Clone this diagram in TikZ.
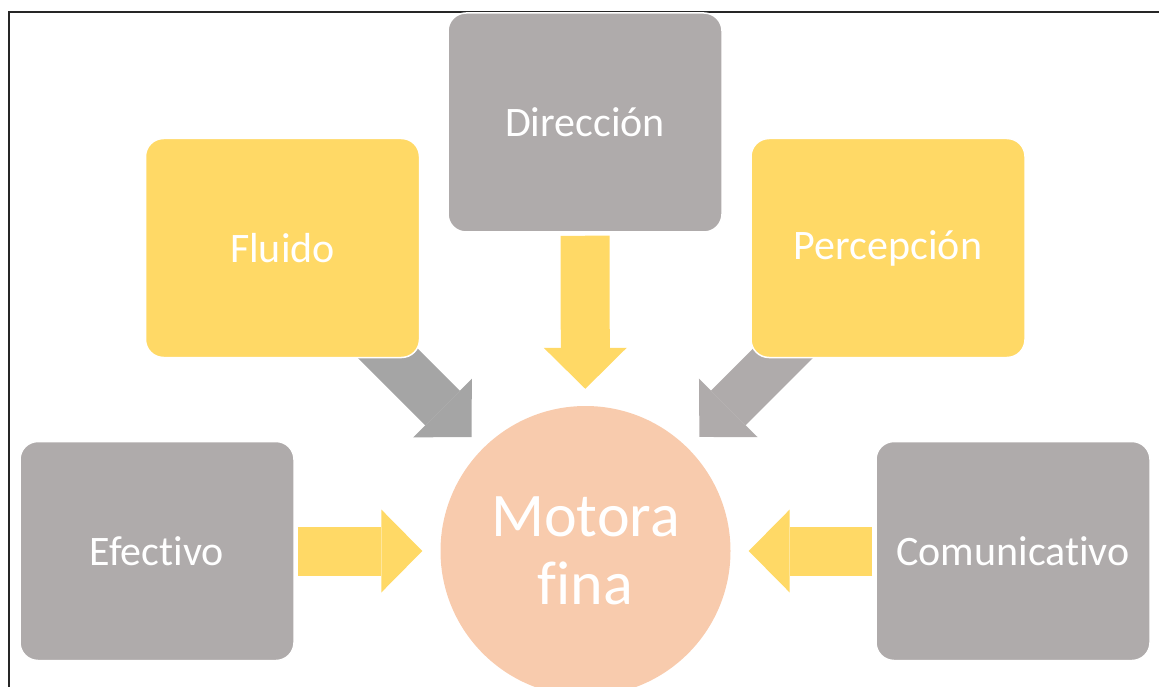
\documentclass[tikz,border=0pt]{standalone}
\usepackage{fontspec}
\setmainfont{Carlito}[Ligatures=CommonOff]
\usetikzlibrary{arrows.meta,backgrounds}

\definecolor{boxgold}{HTML}{FFD966}
\definecolor{boxgrey}{HTML}{AFABAB}
\definecolor{arrowgrey}{HTML}{A5A5A5}
\definecolor{hubpeach}{HTML}{F8CBAD}

\begin{document}
\begin{tikzpicture}[
    x=1pt, y=-1pt,
    block/.style={rectangle, draw=white, line width=1.5pt, rounded corners=18pt, minimum width=274pt, minimum height=219pt, inner sep=0pt, text=white, font=\fontsize{42}{50}\selectfont},
    goldblock/.style={block, fill=boxgold},
    greyblock/.style={block, fill=boxgrey},
    hub/.style={circle, fill=hubpeach, minimum size=290pt, inner sep=0pt, text=white, align=center, font=\fontsize{62}{68}\selectfont},
    fat/.style={line width=49pt, -{Triangle[width=83pt,length=41pt,line width=0pt]}}
]
\useasboundingbox (0,0) rectangle (1159,687);

% Frame
\draw[line width=2pt, black!85] (9,700) |- (1170,12);

% Central circle
\node[hub] (motora) at (585.5,551) {Motora\\fina};

% Boxes around
\node[greyblock] (efectivo) at (157,551) {Efectivo};
\node[goldblock] (fluido) at (282.5,248) {Fluido};
\node[greyblock] (direccion) at (585,122.5) {Dirección};
\node[goldblock] (percepcion) at (888,248) {Percepción};
\node[greyblock] (comunicativo) at (1013,551) {Comunicativo};

% Arrows
\begin{scope}[on background layer]
\draw[fat, draw=arrowgrey, shorten >=16pt] (fluido.center) -- (motora);
\draw[fat, draw=boxgrey, shorten >=16pt] (percepcion.center) -- (motora);
\end{scope}
\draw[fat, draw=boxgold, shorten <=3pt, shorten >=17pt] (direccion) -- (motora);
\draw[fat, draw=boxgold, shorten <=3pt, shorten >=18pt] (efectivo) -- (motora);
\draw[fat, draw=boxgold, shorten <=3pt, shorten >=18pt] (comunicativo) -- (motora);

\end{tikzpicture}
\end{document}
